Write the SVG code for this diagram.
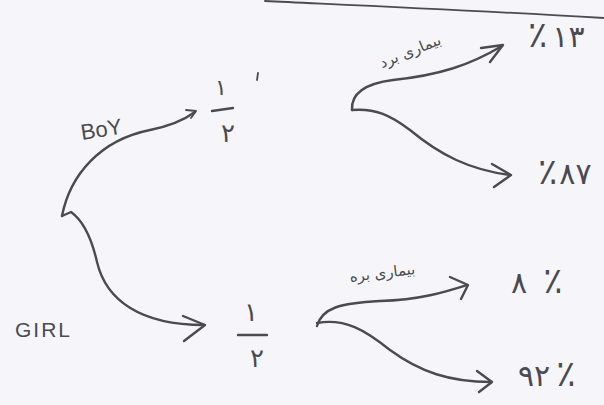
<svg xmlns="http://www.w3.org/2000/svg" width="604" height="405" viewBox="0 0 604 405">
  <defs>
    <style>
      .ink { fill: none; stroke: #4a4a50; stroke-width: 2.4; stroke-linecap: round; stroke-linejoin: round; }
      .thin { stroke-width: 1.8; }
      .lat { font-family: "Liberation Sans", "DejaVu Sans", sans-serif; fill: #4a4a50; }
      .fa { font-family: "DejaVu Sans", "Noto Sans", sans-serif; fill: #4a4a50; }
    </style>
  </defs>
  <rect width="604" height="405" fill="#f6f6fa"/>
  <!-- ruled line at the top of the sheet -->
  <path class="ink thin" d="M265,1 C350,5 450,9 604,18"/>

  <g id="connectors">
    <!-- root to BOY -->
    <path class="ink" d="M62,216 C70,175 100,140 150,130 C170,126 184,120 195,112"/>
    <path class="ink thin" d="M186,110 L196,111 L191,118"/>
    <!-- root to GIRL -->
    <path class="ink" d="M62,216 L71,212 C85,222 92,240 97,262 C106,300 140,325 204,325"/>
    <path class="ink" d="M183,316 L205,325 L184,341"/>
    <!-- BOY: sick -->
    <path class="ink" d="M352,110 C351,95 362,84 393,80 C440,75 470,65 502,46"/>
    <path class="ink" d="M481,48 L503,45 L490,62"/>
    <!-- BOY: healthy -->
    <path class="ink" d="M352,110 C375,108 390,115 410,130 C440,155 470,170 510,175"/>
    <path class="ink" d="M492,164 L511,175 L494,187"/>
    <!-- GIRL: sick -->
    <path class="ink" d="M317,326 C322,308 340,303 380,301 C420,300 445,292 467,285"/>
    <path class="ink" d="M450,277 L468,285 L461,299"/>
    <!-- GIRL: healthy -->
    <path class="ink" d="M317,323 C345,318 365,330 390,350 C420,372 450,382 491,382"/>
    <path class="ink" d="M477,371 L492,382 L479,392"/>
  </g>

  <g id="root-labels">
    <text class="lat" x="82" y="140" font-size="22" transform="rotate(-9 82 140)">BoY</text>
    <text class="lat" x="15" y="337" font-size="21" letter-spacing="2">GIRL</text>
  </g>

  <g id="boy-half">
    <text class="fa" x="221" y="95" font-size="22" text-anchor="middle">۱</text>
    <path class="ink" d="M212,111 L233,108"/>
    <text class="fa" x="228" y="142" font-size="26" text-anchor="middle">۲</text>
    <path class="ink thin" d="M258,73 L257,80"/>
  </g>

  <g id="girl-half">
    <text class="fa" x="251" y="321" font-size="26" text-anchor="middle">۱</text>
    <path class="ink" d="M238,335 L267,335"/>
    <text class="fa" x="257" y="367" font-size="26" text-anchor="middle">۲</text>
  </g>

  <g id="boy-sick">
    <text class="fa" x="412" y="56" font-size="15" text-anchor="middle" transform="rotate(-22 412 56)">بیماری برد</text>
    <text class="fa" x="528" y="47" font-size="30"><tspan font-size="36">٪</tspan><tspan dx="5">۱۳</tspan></text>
  </g>

  <g id="boy-healthy">
    <text class="fa" x="538" y="184" font-size="30"><tspan font-size="36">٪</tspan><tspan dx="2">۸۷</tspan></text>
  </g>

  <g id="girl-sick">
    <text class="fa" x="383" y="278" font-size="15" text-anchor="middle" transform="rotate(-7 383 278)">بیماری بره</text>
    <text class="fa" x="511" y="293" font-size="30">۸<tspan font-size="36" dx="16">٪</tspan></text>
  </g>

  <g id="girl-healthy">
    <text class="fa" x="518" y="386" font-size="30">۹۲<tspan font-size="36" dx="6">٪</tspan></text>
  </g>
</svg>
